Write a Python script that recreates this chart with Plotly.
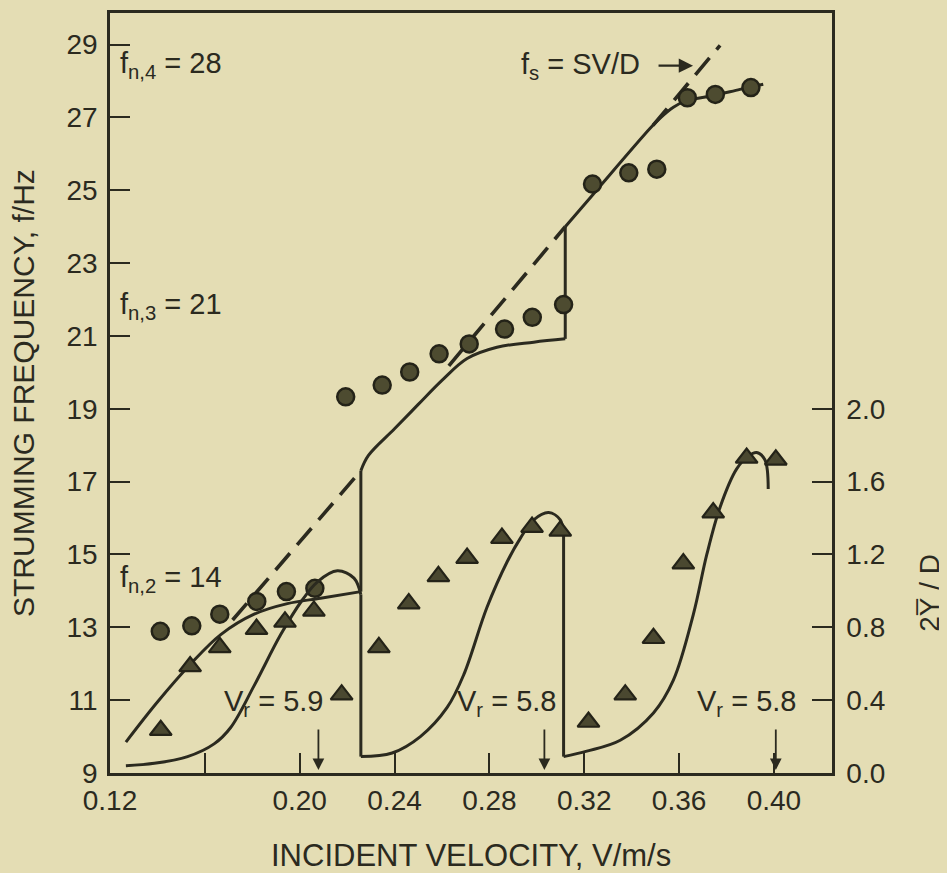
import plotly.graph_objects as go

BG = "#e4ddb4"
INK = "#2b2a1f"
FONT = "Liberation Sans, Arial, Helvetica, sans-serif"

# ---------------- data ----------------
# measured strumming frequency (left axis, Hz)
circ_v = [0.1412, 0.1545, 0.1663, 0.1819, 0.1944, 0.2064, 0.2194, 0.2348, 0.2464, 0.2588,
          0.2715, 0.2864, 0.2981, 0.3113, 0.3235, 0.3388, 0.3506, 0.3635, 0.3753, 0.3903]
circ_f = [12.89, 13.04, 13.36, 13.71, 13.98, 14.07, 19.33, 19.65, 20.01, 20.51,
          20.78, 21.19, 21.51, 21.86, 25.17, 25.48, 25.58, 27.54, 27.63, 27.82]

# measured amplitude 2Y/D (right axis)
tri_v = [0.1414, 0.1538, 0.1663, 0.1818, 0.1938, 0.2060, 0.2177, 0.2334, 0.2460, 0.2585, 0.2706,
         0.2853, 0.2980, 0.3099, 0.3218, 0.3373, 0.3492, 0.3618, 0.3744, 0.3885, 0.4008]
tri_a = [0.235, 0.585, 0.69, 0.79, 0.83, 0.89, 0.43, 0.69, 0.93, 1.08, 1.18,
         1.29, 1.35, 1.33, 0.28, 0.43, 0.74, 1.15, 1.43, 1.73, 1.72]

# model frequency curves (left axis)
mf1_v = [0.1267, 0.1400, 0.1541, 0.1667, 0.1808, 0.1948, 0.2088, 0.2258]
mf1_f = [9.85, 10.95, 12.00, 12.80, 13.36, 13.65, 13.80, 13.98]
mf2_v = [0.2258, 0.2290, 0.2400, 0.2500, 0.2600, 0.2706, 0.2832, 0.2987, 0.3120]
mf2_f = [17.30, 17.72, 18.45, 19.12, 19.78, 20.38, 20.69, 20.83, 20.92]
mf3_v = [0.3120, 0.3239, 0.3478, 0.3520, 0.3576, 0.3632, 0.3752, 0.3857, 0.3955]
mf3_f = [24.00, 24.90, 26.70, 26.98, 27.28, 27.46, 27.61, 27.77, 27.91]
mf_jump_v = [0.2258, 0.2258, None, 0.3120, 0.3120]
mf_jump_f = [13.98, 17.30, None, 20.92, 24.00]

# model amplitude curves (right axis)
ma1_v = [0.1267, 0.1387, 0.1527, 0.1639, 0.1709, 0.1808, 0.1920, 0.2011, 0.2075, 0.2159, 0.2229, 0.2258]
ma1_a = [0.04, 0.053, 0.09, 0.16, 0.25, 0.48, 0.76, 0.95, 1.05, 1.11, 1.07, 0.98]
ma2_v = [0.2258, 0.2390, 0.2509, 0.2622, 0.2692, 0.2790, 0.2875, 0.2931, 0.2987, 0.3050, 0.3099, 0.3113]
ma2_a = [0.09, 0.11, 0.20, 0.36, 0.54, 0.91, 1.16, 1.29, 1.39, 1.43, 1.39, 1.31]
ma3_v = [0.3113, 0.3211, 0.3352, 0.3492, 0.3576, 0.3660, 0.3717, 0.3773, 0.3843, 0.3892, 0.3927, 0.3962, 0.3976]
ma3_a = [0.09, 0.12, 0.18, 0.33, 0.51, 0.87, 1.20, 1.46, 1.67, 1.74, 1.76, 1.72, 1.56]
ma_drop_v = [0.2258, 0.2258, None, 0.3113, 0.3113]
ma_drop_a = [0.98, 0.09, None, 1.31, 0.09]

# Strouhal line f_s = SV/D (dashed)
fs_v = [0.1717, 0.2258, None, 0.2629, 0.3120, None, 0.3490, 0.3773]
fs_f = [13.20, 17.30, None, 20.18, 24.00, None, 26.78, 28.98]

# reduced-velocity arrows and labels
vr_arrow_v = [0.2079, 0.3032, 0.4008]
vr_label_v = [0.1891, 0.2872, 0.3886]
vr_labels = ["5.9", "5.8", "5.8"]

fn_labels = ["f<sub>n,4</sub> = 28", "f<sub>n,3</sub> = 21", "f<sub>n,2</sub> = 14"]
fn_label_f = [28.44, 21.82, 14.33]

x_tickvals = [0.12, 0.16, 0.20, 0.24, 0.28, 0.32, 0.36, 0.40]
x_ticktext = ["0.12", "", "0.20", "0.24", "0.28", "0.32", "0.36", "0.40"]
y_tickvals = [9, 11, 13, 15, 17, 19, 21, 23, 25, 27, 29]
y2_tickvals = [0.0, 0.4, 0.8, 1.2, 1.6, 2.0]
y2_ticktext = ["0.0", "0.4", "0.8", "1.2", "1.6", "2.0"]

# ---------------- figure ----------------
fig = go.Figure()


def add_line(v, y, yaxis="y", shape="spline", dash="solid", width=3.0):
    fig.add_trace(go.Scatter(
        x=v, y=y, mode="lines", yaxis=yaxis, showlegend=False, hoverinfo="skip",
        connectgaps=False,
        line=dict(color=INK, width=width, shape=shape, dash=dash, smoothing=1.0)))


add_line(fs_v, fs_f, shape="linear", dash="22px,11px", width=3.6)
add_line(mf1_v, mf1_f)
add_line(mf2_v, mf2_f)
add_line(mf3_v, mf3_f)
add_line(mf_jump_v, mf_jump_f, shape="linear")
add_line(ma1_v, ma1_a, yaxis="y2")
add_line(ma2_v, ma2_a, yaxis="y2")
add_line(ma3_v, ma3_a, yaxis="y2")
add_line(ma_drop_v, ma_drop_a, yaxis="y2", shape="linear")

fig.add_trace(go.Scatter(
    x=circ_v, y=circ_f, mode="markers", showlegend=False, hoverinfo="skip",
    marker=dict(symbol="circle", size=17, color="#4d4b30", line=dict(color="#242318", width=2.5))))
fig.add_trace(go.Scatter(
    x=tri_v, y=tri_a, yaxis="y2", mode="markers", showlegend=False, hoverinfo="skip",
    marker=dict(symbol="triangle-up", size=19, color="#4a4830", line=dict(color="#242318", width=2.2))))

axis_common = dict(showgrid=False, zeroline=False, showline=True, linecolor=INK, linewidth=2.5,
                   ticks="inside", ticklen=20, tickwidth=2.2, tickcolor=INK,
                   tickfont=dict(family=FONT, size=28, color=INK))

fig.update_layout(
    width=939, height=865,
    margin=dict(l=102, r=115, t=2, b=100),
    paper_bgcolor=BG, plot_bgcolor=BG,
    font=dict(family=FONT, color=INK),
    xaxis=dict(range=[0.12, 0.4245], tickvals=x_tickvals, ticktext=x_ticktext,
               mirror=True, ticklabelstandoff=1, **axis_common),
    yaxis=dict(range=[9, 29.867], tickvals=y_tickvals, ticklabelstandoff=4, **axis_common),
    yaxis2=dict(range=[0, 4.1734], tickvals=y2_tickvals, ticktext=y2_ticktext, overlaying="y",
                side="right", ticklabelstandoff=6, **axis_common),
)

# axis titles
fig.add_annotation(text="INCIDENT VELOCITY, V/m/s", xref="paper", yref="paper", x=0.5, y=-0.108,
                   xanchor="center", yanchor="middle", showarrow=False,
                   font=dict(family=FONT, size=31, color=INK))
fig.add_annotation(text="STRUMMING FREQUENCY, f/Hz", xref="paper", yref="paper", x=-0.1205, y=0.5,
                   xanchor="center", yanchor="middle", textangle=-90, showarrow=False,
                   font=dict(family=FONT, size=30, color=INK))
fig.add_annotation(text="2Y\u0305 / D", xref="paper", yref="paper", x=1.1357, y=0.237,
                   xanchor="center", yanchor="middle", textangle=-90, showarrow=False,
                   font=dict(family=FONT, size=28, color=INK))

# natural-frequency labels
for txt, fv in zip(fn_labels, fn_label_f):
    fig.add_annotation(text=txt, x=0.1235, y=fv, xref="x", yref="y", xanchor="left",
                       yanchor="middle", showarrow=False, font=dict(family=FONT, size=29, color=INK))

# V_r labels and arrows
for lv, lt in zip(vr_label_v, vr_labels):
    fig.add_annotation(text="V<sub>r</sub> = " + lt, x=lv, y=10.91, xref="x", yref="y",
                       xanchor="center", yanchor="middle", showarrow=False,
                       font=dict(family=FONT, size=29, color=INK))
for av in vr_arrow_v:
    fig.add_annotation(text="", x=av, y=9.08, xref="x", yref="y", ax=0, ay=-42,
                       showarrow=True, arrowhead=2, arrowsize=1.3, arrowwidth=1.8, arrowcolor=INK)

# Strouhal label with arrow
fig.add_annotation(text="f<sub>s</sub> = SV/D", x=0.3445, y=28.40, xref="x", yref="y",
                   xanchor="right", yanchor="middle", showarrow=False,
                   font=dict(family=FONT, size=29, color=INK))
fig.add_annotation(text="", x=0.3659, y=28.42, xref="x", yref="y", ax=-36, ay=0,
                   showarrow=True, arrowhead=2, arrowsize=1.3, arrowwidth=2.2, arrowcolor=INK)

fig.write_html("out.html",
               post_script="document.body.style.background='" + BG + "';"
                           "document.documentElement.style.background='" + BG + "';")
